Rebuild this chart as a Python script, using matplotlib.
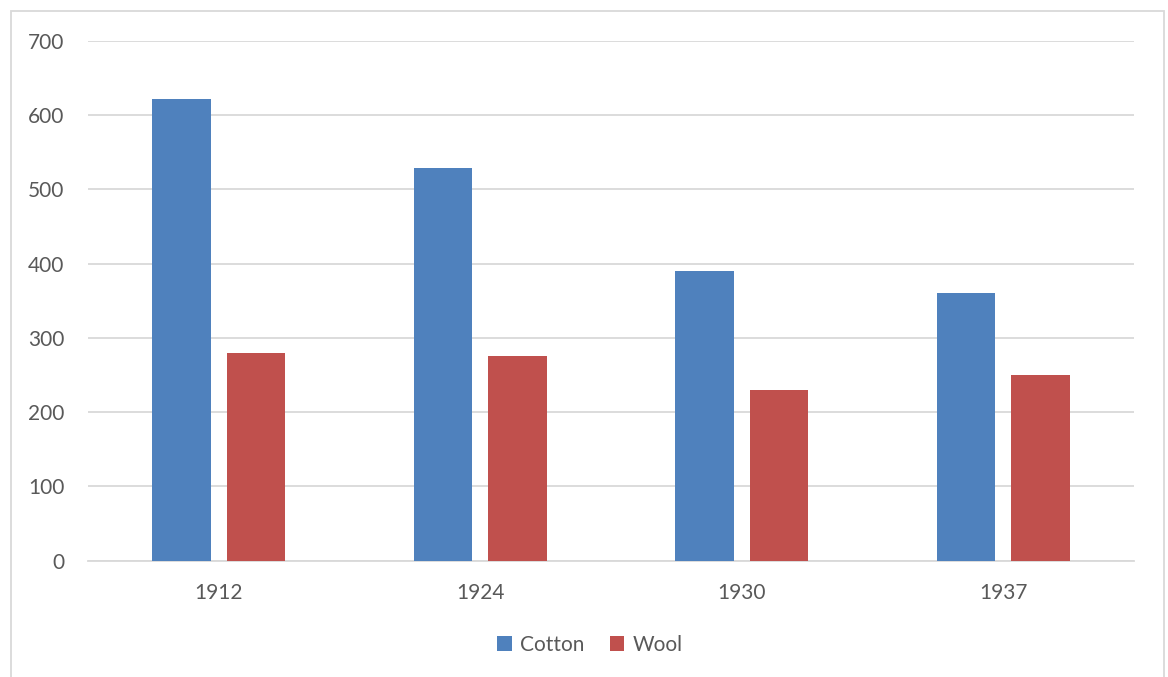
import matplotlib
matplotlib.use("Agg")
import matplotlib.pyplot as plt
from matplotlib.patches import Rectangle
import numpy as np

years = ["1912", "1924", "1930", "1937"]
cotton = [621, 528, 390, 360]
wool = [280, 275, 230, 250]

y_ticks = [0, 100, 200, 300, 400, 500, 600, 700]

BLUE = "#4F81BD"
RED = "#C0504D"
GRID = "#D9D9D9"
TEXT = "#595959"

plt.rcParams["font.family"] = ["Lato", "DejaVu Sans"]

fig = plt.figure(figsize=(11.68, 6.77), dpi=100)
W, H = 1168, 677

# Chart frame
fig.patches.append(Rectangle((11 / W, -0.05), (1164 - 11) / W, 1.05 - 11 / H,
                             transform=fig.transFigure, fill=False,
                             edgecolor=GRID, linewidth=1.3))

ax = fig.add_axes([88 / W, (H - 560.7) / H, (1134 - 88) / W, (560.7 - 40.7) / H])

x = np.arange(len(years))
bw = 0.225
off = 0.1425
ax.bar(x - off, cotton, width=bw, color=BLUE, label="Cotton", zorder=3)
ax.bar(x + off, wool, width=bw, color=RED, label="Wool", zorder=3)

ax.set_xlim(-0.5, len(years) - 0.5)
ax.set_ylim(0, 700)
ax.set_yticks(y_ticks)
ax.set_xticks(x)
ax.set_xticklabels(years)

ax.yaxis.grid(True, color=GRID, linewidth=1.3, zorder=0)
ax.set_axisbelow(True)
for s in ["top", "right", "left"]:
    ax.spines[s].set_visible(False)
ax.spines["bottom"].set_color(GRID)
ax.spines["bottom"].set_linewidth(1.3)

ax.tick_params(axis="both", length=0, labelsize=15, labelcolor=TEXT)
ax.tick_params(axis="y", pad=17)
ax.tick_params(axis="x", pad=16)

fig.legend(loc="center", bbox_to_anchor=(590 / W, (H - 645) / H), ncol=2,
           frameon=False, fontsize=15, labelcolor=TEXT, handlelength=0.7,
           handleheight=0.7, handletextpad=0.4, columnspacing=1.2)

fig.savefig("out.png", dpi=100, facecolor="white")
